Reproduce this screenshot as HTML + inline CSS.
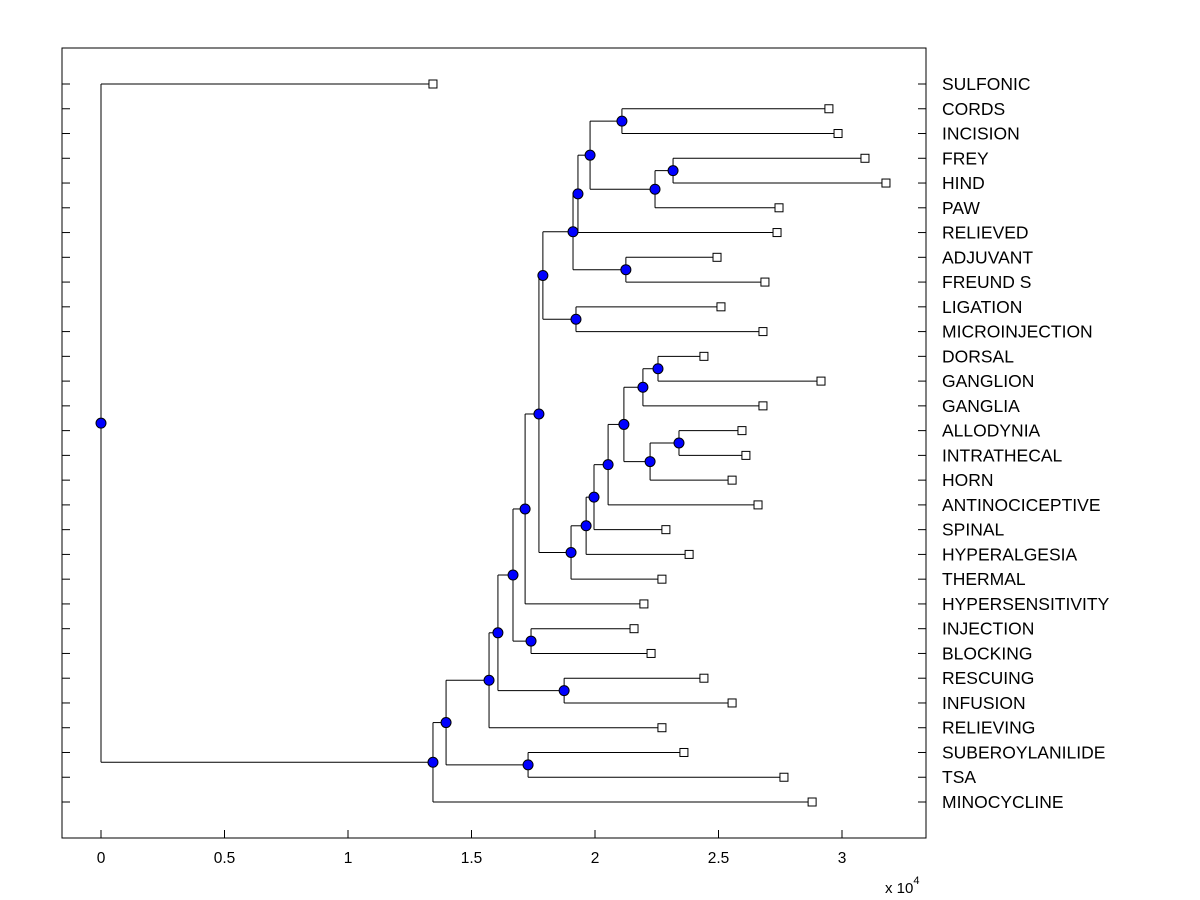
<!DOCTYPE html>
<html><head><meta charset="utf-8"><style>
html,body{margin:0;padding:0;background:#fff;}
svg{display:block;font-family:"Liberation Sans",sans-serif;}
</style></head><body>
<svg id="chart" width="1200" height="900"></svg>
<script>
const leaves = ["SULFONIC","CORDS","INCISION","FREY","HIND","PAW","RELIEVED","ADJUVANT","FREUND S","LIGATION","MICROINJECTION","DORSAL","GANGLION","GANGLIA","ALLODYNIA","INTRATHECAL","HORN","ANTINOCICEPTIVE","SPINAL","HYPERALGESIA","THERMAL","HYPERSENSITIVITY","INJECTION","BLOCKING","RESCUING","INFUSION","RELIEVING","SUBEROYLANILIDE","TSA","MINOCYCLINE"];
const leafValues = [13440,29470,29840,30930,31780,27450,27370,24940,26880,25100,26800,24410,29150,26800,25950,26110,25550,26600,22870,23810,22710,21980,21580,22270,24410,25550,22710,23600,27650,28790];
// internal nodes: [id, value, childA, childB]
const nodeIds =   ["root","A","B","D","C","E","G","F","I","H","J","K","M","O","Q","R","S","T","P","N","L","U","V","W","X","Y","AA","Z","AB"];
const nodeValues = [0,13440,13970,17290,15710,16070,18750,16680,17410,17170,17730,17890,19110,19310,19800,21090,22430,23160,21250,19230,19030,19640,19960,20530,21170,21940,22550,22230,23400];
const nodeChildren = [
 ["SULFONIC","A"],["B","MINOCYCLINE"],["C","D"],["SUBEROYLANILIDE","TSA"],["E","RELIEVING"],["F","G"],["RESCUING","INFUSION"],["H","I"],["INJECTION","BLOCKING"],["J","HYPERSENSITIVITY"],["K","L"],["M","N"],["O","P"],["Q","RELIEVED"],["R","S"],["CORDS","INCISION"],["T","PAW"],["FREY","HIND"],["ADJUVANT","FREUND S"],["LIGATION","MICROINJECTION"],["U","THERMAL"],["V","HYPERALGESIA"],["W","SPINAL"],["X","ANTINOCICEPTIVE"],["Y","Z"],["AA","GANGLIA"],["DORSAL","GANGLION"],["AB","HORN"],["ALLODYNIA","INTRATHECAL"]];
const xTicks = [0,0.5,1,1.5,2,2.5,3];

const NS="http://www.w3.org/2000/svg";
const svg=document.getElementById('chart');
const L=62,R=926,T=48,B=838;
const xs=v=>101+v/10000*247;
const ys=i=>84+i*(802-84)/29;
function mk(t,a){const e=document.createElementNS(NS,t);for(const k in a)e.setAttribute(k,a[k]);svg.appendChild(e);return e;}
const frame=mk('rect',{x:L,y:T,width:R-L,height:B-T,fill:'none',stroke:'#000','stroke-width':1});


leaves.forEach((n,i)=>{
 const y=ys(i);
 const t1=mk('line',{x1:L,x2:L+8,y1:y,y2:y,stroke:'#000'});
 
 
 const t2=mk('line',{x1:R-8,x2:R,y1:y,y2:y,stroke:'#000'});
 
 
 const tx=mk('text',{x:942,y:y+6,'font-size':17.5});
 tx.textContent=n;
 
 
});
xTicks.forEach(v=>{
 const x=xs(v*10000);
 const t=mk('line',{x1:x,x2:x,y1:B,y2:B-8,stroke:'#000'});
 
 
 const tx=mk('text',{x:x,y:863,'font-size':15.5,'text-anchor':'middle'});
 tx.textContent=String(v);
 
 
});
const ex=mk('text',{x:885,y:893,'font-size':15});
ex.innerHTML='x 10<tspan dy="-9" font-size="11">4</tspan>';



const pos={};
leaves.forEach((n,i)=>pos[n]={x:xs(leafValues[i]),y:ys(i),leaf:true});
function getPos(id){
 if(pos[id])return pos[id];
 const k=nodeIds.indexOf(id);
 const a=getPos(nodeChildren[k][0]),b=getPos(nodeChildren[k][1]);
 pos[id]={x:xs(nodeValues[k]),y:(a.y+b.y)/2,leaf:false};
 return pos[id];
}
nodeIds.forEach((id,k)=>{
 const p=getPos(id);
 const a=getPos(nodeChildren[k][0]),b=getPos(nodeChildren[k][1]);
 const v=mk('line',{x1:p.x,x2:p.x,y1:a.y,y2:b.y,stroke:'#000'});
 
 
 [a,b].forEach(c=>{
  const h=mk('line',{x1:p.x,x2:c.x,y1:c.y,y2:c.y,stroke:'#000'});
  
  
 });
});
leaves.forEach(n=>{
 const p=pos[n];
 const s=mk('rect',{x:p.x-4,y:p.y-4,width:8,height:8,fill:'#fff',stroke:'#000'});
 
 
});
nodeIds.forEach(id=>{
 const p=pos[id];
 const c=mk('circle',{cx:p.x,cy:p.y,r:5,fill:'#0000ff',stroke:'#000'});
 
 
});
</script>
</body></html>
